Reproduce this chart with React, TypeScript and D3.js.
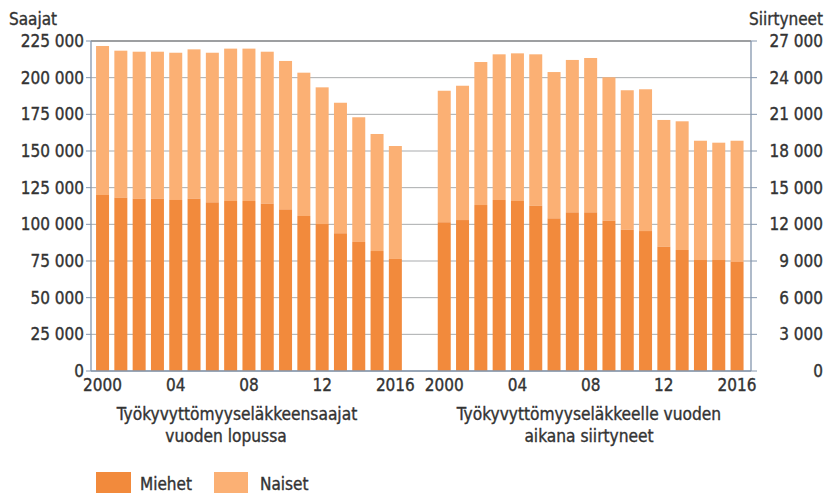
import React from "react";
import * as d3 from "d3";

const years = [2000, 2001, 2002, 2003, 2004, 2005, 2006, 2007, 2008, 2009, 2010, 2011, 2012, 2013, 2014, 2015, 2016];
const yearLabels: Record<number, string> = { 2000: "2000", 2004: "04", 2008: "08", 2012: "12", 2016: "2016" };

// Työkyvyttömyyseläkkeensaajat vuoden lopussa
const saajatMiehet = [120000, 118200, 117500, 117500, 116600, 117500, 115000, 115900, 115900, 114100, 110200, 105700, 100200, 93900, 88000, 81800, 76400];
const saajatYhteensa = [221600, 218400, 217700, 217700, 217000, 219300, 217000, 219800, 219800, 217700, 211400, 203400, 193400, 182900, 173000, 161600, 153400];

// Työkyvyttömyyseläkkeelle vuoden aikana siirtyneet
const siirtyneetMiehet = [12170, 12350, 13580, 13990, 13910, 13520, 12490, 12980, 12980, 12300, 11560, 11450, 10170, 9900, 9080, 9080, 8920];
const siirtyneetYhteensa = [22930, 23340, 25280, 25910, 25990, 25910, 24460, 25450, 25610, 24030, 22970, 23050, 20540, 20430, 18840, 18680, 18840];

const leftTicks = [0, 25000, 50000, 75000, 100000, 125000, 150000, 175000, 200000, 225000];
const rightTicks = [0, 3000, 6000, 9000, 12000, 15000, 18000, 21000, 24000, 27000];

const DARK = "#f28a3c";
const LIGHT = "#fbb074";
const FONT = "'DejaVu Sans Condensed', 'DejaVu Sans', sans-serif";
const TXT = "#333333";

const fmt = (v: number) => {
  const s = String(v);
  return s.length > 3 ? s.slice(0, s.length - 3) + " " + s.slice(s.length - 3) : s;
};

export default function App() {
  const W = 827, H = 493;
  const top = 41, bottom = 371, left = 91, right = 751;
  const yL = d3.scaleLinear().domain([0, 225000]).range([bottom, top]);
  const yR = d3.scaleLinear().domain([0, 27000]).range([bottom, top]);
  const xL = d3.scaleBand<number>().domain(years).range([93.3, 404.6]).paddingInner(0.29).paddingOuter(0.15);
  const xR = d3.scaleBand<number>().domain(years).range([435, 746.3]).paddingInner(0.29).paddingOuter(0.15);

  const groups = [
    { x: xL, y: yL, men: saajatMiehet, total: saajatYhteensa },
    { x: xR, y: yR, men: siirtyneetMiehet, total: siirtyneetYhteensa },
  ];

  const tp = { fill: TXT, stroke: TXT, strokeWidth: 0.35 };

  return (
    <svg width={W} height={H} style={{ position: "absolute", left: 0, top: 0, background: "#fff" }} fontFamily={FONT}>
      {/* gridlines */}
      {leftTicks.map((t) => (
        <line key={"g" + t} x1={left} x2={right} y1={yL(t)} y2={yL(t)} stroke={t === 225000 ? "#7d7f82" : "#a9abad"} strokeWidth={t === 225000 ? 1.5 : 1} />
      ))}
      {/* bars */}
      {groups.map((g, gi) => (
        <g key={gi}>
          {years.map((yr, i) => (
            <g key={yr}>
              <rect x={g.x(yr)} width={g.x.bandwidth()} y={g.y(g.total[i])} height={g.y(g.men[i]) - g.y(g.total[i])} fill={LIGHT} />
              <rect x={g.x(yr)} width={g.x.bandwidth()} y={g.y(g.men[i])} height={bottom - g.y(g.men[i])} fill={DARK} />
            </g>
          ))}
        </g>
      ))}
      {/* axes */}
      <line x1={left} x2={left} y1={top} y2={bottom} stroke="#8496ad" strokeWidth={1.3} />
      <line x1={right} x2={right} y1={top} y2={bottom} stroke="#8496ad" strokeWidth={1.3} />
      <line x1={left} x2={right} y1={bottom} y2={bottom} stroke="#8496ad" strokeWidth={1.5} />
      {leftTicks.map((t) => (
        <g key={"l" + t}>
          <line x1={left - 5} x2={left} y1={yL(t)} y2={yL(t)} stroke="#8496ad" />
          <text x={84} y={yL(t)} dy="0.36em" textAnchor="end" fontSize={17} {...tp}>{fmt(t)}</text>
        </g>
      ))}
      {rightTicks.map((t) => (
        <g key={"r" + t}>
          <line x1={right} x2={right + 6} y1={yR(t)} y2={yR(t)} stroke="#8496ad" />
          <text x={823} y={yR(t)} dy="0.36em" textAnchor="end" fontSize={17} {...tp}>{fmt(t)}</text>
        </g>
      ))}
      <text x={9} y={25} fontSize={17} {...tp}>Saajat</text>
      <text x={823} y={25} fontSize={17} textAnchor="end" {...tp}>Siirtyneet</text>
      {/* x labels */}
      {groups.map((g, gi) =>
        years.filter((yr) => yearLabels[yr]).map((yr) => (
          <text key={gi + "-" + yr} x={(g.x(yr) as number) + g.x.bandwidth() / 2} y={391} textAnchor="middle" fontSize={17} {...tp}>{yearLabels[yr]}</text>
        ))
      )}
      <text x={237} y={420} textAnchor="middle" fontSize={17.2} {...tp}>Työkyvyttömyyseläkkeensaajat</text>
      <text x={226} y={442} textAnchor="middle" fontSize={17.2} {...tp}>vuoden lopussa</text>
      <text x={589} y={420} textAnchor="middle" fontSize={17.2} {...tp}>Työkyvyttömyyseläkkeelle vuoden</text>
      <text x={589} y={442} textAnchor="middle" fontSize={17.2} {...tp}>aikana siirtyneet</text>
      {/* legend */}
      <rect x={96} y={472} width={35} height={21} fill={DARK} />
      <text x={140} y={490} fontSize={17} {...tp}>Miehet</text>
      <rect x={214} y={472} width={34} height={21} fill={LIGHT} />
      <text x={260} y={490} fontSize={17} {...tp}>Naiset</text>
    </svg>
  );
}
